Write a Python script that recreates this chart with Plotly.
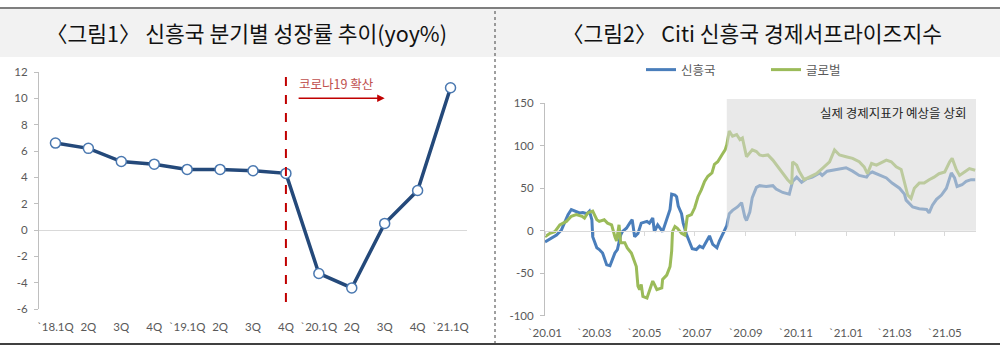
import plotly.graph_objects as go

# ---------------- Data: Figure 1 ----------------
quarters = ["`18.1Q", "2Q", "3Q", "4Q", "`19.1Q", "2Q", "3Q", "4Q",
            "`20.1Q", "2Q", "3Q", "4Q", "`21.1Q"]
growth = [6.6, 6.2, 5.2, 5.0, 4.6, 4.6, 4.5, 4.3, -3.3, -4.4, 0.5, 3.0, 10.8]
y1_ticks = [-6, -4, -2, 0, 2, 4, 6, 8, 10, 12]
y1_text = ["-6", "-4", "-2", "0", "2", "4", "6", "8", "10", "12"]
covid_idx = 7

# ---------------- Data: Figure 2 ----------------
em_dates = ["2020-01-01", "2020-01-07", "2020-01-15", "2020-01-21", "2020-01-25", "2020-01-29",
            "2020-02-02", "2020-02-08", "2020-02-12", "2020-02-16", "2020-02-21", "2020-02-24",
            "2020-02-27", "2020-02-28", "2020-03-04", "2020-03-07", "2020-03-11", "2020-03-16",
            "2020-03-20", "2020-03-22", "2020-03-26", "2020-03-29", "2020-04-02", "2020-04-04",
            "2020-04-09", "2020-04-13", "2020-04-16", "2020-04-19", "2020-04-23", "2020-04-27",
            "2020-05-04", "2020-05-07", "2020-05-11", "2020-05-13", "2020-05-17", "2020-05-23",
            "2020-05-28", "2020-06-01", "2020-06-03", "2020-06-07", "2020-06-09", "2020-06-11",
            "2020-06-15", "2020-06-17", "2020-06-21", "2020-06-25", "2020-06-28", "2020-07-03",
            "2020-07-07", "2020-07-11", "2020-07-15", "2020-07-19", "2020-07-23", "2020-07-28",
            "2020-07-31", "2020-08-04", "2020-08-09", "2020-08-12", "2020-08-16", "2020-08-22",
            "2020-08-27", "2020-08-31", "2020-09-02", "2020-09-06", "2020-09-09", "2020-09-14",
            "2020-09-18", "2020-09-26", "2020-10-04", "2020-10-08", "2020-10-16", "2020-10-24",
            "2020-10-28", "2020-11-02", "2020-11-08", "2020-11-14", "2020-11-21", "2020-11-30",
            "2020-12-03", "2020-12-09", "2020-12-15", "2020-12-24", "2021-01-01", "2021-01-09",
            "2021-01-17", "2021-01-26", "2021-01-29", "2021-02-02", "2021-02-11", "2021-02-19",
            "2021-02-26", "2021-03-07", "2021-03-13", "2021-03-15", "2021-03-23", "2021-03-31",
            "2021-04-09", "2021-04-12", "2021-04-16", "2021-04-21", "2021-04-27", "2021-05-03",
            "2021-05-09", "2021-05-13", "2021-05-16", "2021-05-22", "2021-05-27", "2021-06-02",
            "2021-06-07"]
em_values = [-13, -10, -5, 1, 10, 19,
             25, 23, 21, 21.5, 20, 23,
             13, -7, -20, -22, -26, -40,
             -41, -36, -26, -22, -5, -1,
             3, 9, 13, -7, -3, 9,
             11, 9, 15, -1, 7, -1,
             13, 25, 43, 42, 40, 29,
             20, 9, -4, -14, -21, -22,
             -18, -20, -12, -6, -16, -20,
             -12, -4, 6, 20, 24, 28,
             33, 16, 12, 22, 39, 51,
             53, 52, 53, 49, 45, 43,
             58, 63, 57, 61, 63, 68,
             65, 70, 71, 72, 74, 70,
             65, 63, 67, 69, 65, 62,
             56, 50, 43, 36, 28, 26,
             25, 21, 30, 37, 42, 50,
             68, 62, 52, 54, 58, 60,
             60]

gl_dates = ["2020-01-01", "2020-01-07", "2020-01-13", "2020-01-19", "2020-01-27", "2020-02-02",
            "2020-02-08", "2020-02-15", "2020-02-18", "2020-02-22", "2020-02-28", "2020-03-04",
            "2020-03-07", "2020-03-13", "2020-03-17", "2020-03-22", "2020-03-26", "2020-03-28",
            "2020-03-31", "2020-04-02", "2020-04-07", "2020-04-10", "2020-04-15", "2020-04-19",
            "2020-04-21", "2020-04-23", "2020-04-25", "2020-04-27", "2020-04-29", "2020-05-04",
            "2020-05-07", "2020-05-11", "2020-05-13", "2020-05-16", "2020-05-22", "2020-05-23",
            "2020-05-28", "2020-06-01", "2020-06-03", "2020-06-04", "2020-06-07", "2020-06-10",
            "2020-06-15", "2020-06-19", "2020-06-22", "2020-06-27", "2020-07-01", "2020-07-05",
            "2020-07-09", "2020-07-13", "2020-07-17", "2020-07-22", "2020-07-25", "2020-07-29",
            "2020-08-03", "2020-08-07", "2020-08-09", "2020-08-12", "2020-08-16", "2020-08-21",
            "2020-08-25", "2020-08-28", "2020-09-02", "2020-09-06", "2020-09-09", "2020-09-14",
            "2020-09-18", "2020-09-22", "2020-09-28", "2020-10-04", "2020-10-10", "2020-10-16",
            "2020-10-22", "2020-10-27", "2020-10-28", "2020-11-02", "2020-11-05", "2020-11-11",
            "2020-11-17", "2020-11-26", "2020-12-03", "2020-12-12", "2020-12-18", "2020-12-24",
            "2021-01-01", "2021-01-09", "2021-01-17", "2021-01-23", "2021-01-27", "2021-02-01",
            "2021-02-07", "2021-02-14", "2021-02-19", "2021-02-25", "2021-03-03", "2021-03-09",
            "2021-03-13", "2021-03-17", "2021-03-21", "2021-03-25", "2021-03-31", "2021-04-06",
            "2021-04-12", "2021-04-18", "2021-04-24", "2021-05-01", "2021-05-07", "2021-05-10",
            "2021-05-15", "2021-05-19", "2021-05-25", "2021-05-31", "2021-06-07"]
gl_values = [-7, -3, -1, 7, 11, 17,
             19, 17, 15, 21, 23, 13,
             11, 13, 9, 7, -7, -12,
             7, -14, -14, -20, -26, -38,
             -42, -65, -69, -63, -77, -79,
             -71, -59, -63, -69, -67, -57,
             -52, -42, -24, -1, 5, 3,
             -3, -5, 17, 19, 27, 40,
             48, 58, 64, 68, 78, 81,
             89, 95, 101, 117, 111, 113,
             107, 109, 87, 91, 95, 93,
             89, 88, 89, 83, 75, 67,
             60, 55, 81, 77, 70, 60,
             63, 67, 73, 81, 95, 89,
             87, 85, 81, 75, 67, 79,
             77, 81, 83, 81, 75, 72,
             58, 42, 38, 50, 56, 56,
             60, 63, 67, 69, 81, 85,
             72, 65, 69, 73, 71]

x2_tickvals = ["2020-01-01", "2020-03-01", "2020-05-01", "2020-07-01", "2020-09-01",
               "2020-11-01", "2021-01-01", "2021-03-01", "2021-05-01"]
x2_ticktext = ["`20.01", "`20.03", "`20.05", "`20.07", "`20.09",
               "`20.11", "`21.01", "`21.03", "`21.05"]
y2_ticks = [-100, -50, 0, 50, 100, 150]
y2_text = ["-100", "-50", "0", "50", "100", "150"]
x2_range = ["2020-01-01", "2021-06-08"]
shade_start = "2020-08-09"

H = 348.0
def py(p):  # pixel-from-top -> paper fraction
    return (H - p) / H

TICKFONT = dict(family="Lato, 'Noto Sans CJK KR', sans-serif", size=11.5, color="#595959")
CJK = "'Noto Sans CJK KR', sans-serif"

fig = go.Figure()

fig.add_trace(go.Scatter(
    x=list(range(len(quarters))), y=growth, mode="lines+markers",
    line=dict(color="#24497a", width=3.5),
    marker=dict(size=10, color="white", line=dict(color="#4a78b0", width=1.5)),
    xaxis="x", yaxis="y", showlegend=False, hoverinfo="skip"))

fig.add_trace(go.Scatter(
    x=em_dates, y=em_values, mode="lines", name="신흥국",
    line=dict(color="#4a7ebb", width=3), xaxis="x2", yaxis="y2"))
fig.add_trace(go.Scatter(
    x=gl_dates, y=gl_values, mode="lines", name="글로벌",
    line=dict(color="#9bbb59", width=3), xaxis="x2", yaxis="y2"))
fig.add_trace(go.Scatter(
    x=[], y=[], mode="lines", xaxis="x3", yaxis="y2", showlegend=False, hoverinfo="skip"))

y0_paper = 0.092 + (0 - (-100)) / 250 * (0.704 - 0.092)

fig.update_layout(
    width=1000, height=348, margin=dict(l=0, r=0, t=0, b=0, autoexpand=False),
    paper_bgcolor="white", plot_bgcolor="white",
    xaxis=dict(domain=[0.039, 0.467], range=[-0.5, 12.5], showline=False, showgrid=False,
               zeroline=False, ticks="", tickvals=list(range(len(quarters))), ticktext=quarters,
               tickfont=TICKFONT, ticklabelstandoff=9, anchor="y", automargin=False),
    yaxis=dict(domain=[py(309), py(72)], range=[-6, 12], tickvals=y1_ticks, ticktext=y1_text,
               showgrid=False, showline=True, linecolor="#bfbfbf", linewidth=1,
               ticks="outside", ticklen=4, tickcolor="#bfbfbf",
               zeroline=True, zerolinecolor="#d9d9d9", zerolinewidth=1,
               tickfont=TICKFONT, ticklabelstandoff=4, anchor="x", automargin=False),
    xaxis2=dict(domain=[0.545, 0.976], type="date", range=x2_range, showline=False, showgrid=False,
                zeroline=False, ticks="", tickvals=x2_tickvals, ticktext=x2_ticktext,
                tickfont=TICKFONT, ticklabelstandoff=9, anchor="y2", automargin=False),
    xaxis3=dict(overlaying="x2", type="date", range=x2_range, anchor="free", position=y0_paper,
                showline=True, linecolor="#d9d9d9", linewidth=1, showgrid=False, zeroline=False,
                ticks="outside", ticklen=4, tickcolor="#d9d9d9", tickvals=x2_tickvals,
                showticklabels=False, side="bottom", automargin=False),
    yaxis2=dict(domain=[0.092, 0.704], range=[-100, 150], tickvals=y2_ticks, ticktext=y2_text,
                showgrid=False, showline=True, linecolor="#bfbfbf", linewidth=1,
                ticks="outside", ticklen=4, tickcolor="#bfbfbf", zeroline=False,
                tickfont=TICKFONT, ticklabelstandoff=4, anchor="x2", automargin=False),
    legend=dict(orientation="h", x=0.641, xanchor="left", y=py(70), yanchor="middle",
                font=dict(family=CJK, size=12.5, color="#595959"), itemwidth=30,
                bgcolor="rgba(0,0,0,0)", entrywidth=80, entrywidthmode="pixels"),
)

shapes = [
    # title band
    dict(type="rect", xref="paper", yref="paper", x0=0, x1=1, y0=py(57), y1=py(9),
         fillcolor="#f2f2f2", line=dict(width=0), layer="below"),
    dict(type="line", xref="paper", yref="paper", x0=0, x1=1, y0=py(8), y1=py(8),
         line=dict(color="#7f7f7f", width=2)),
    dict(type="line", xref="paper", yref="paper", x0=0, x1=1, y0=py(344), y1=py(344),
         line=dict(color="#404040", width=2)),
    dict(type="line", xref="paper", yref="paper", x0=0.495, x1=0.495, y0=py(344), y1=py(8),
         line=dict(color="#404040", width=1, dash="dot")),
    # covid line
    dict(type="line", xref="x", yref="paper", x0=covid_idx, x1=covid_idx, y0=py(302), y1=py(69),
         line=dict(color="#c00000", width=2, dash="dash")),
    # shaded area
    dict(type="rect", xref="x2", yref="paper", x0=shade_start, x1=x2_range[1],
         y0=y0_paper, y1=py(99), fillcolor="rgba(215,215,215,0.55)", line=dict(width=0),
         layer="above"),
]
fig.update_layout(shapes=shapes)

ann = [
    dict(text="〈그림1〉 신흥국 분기별 성장률 추이(yoy%)", xref="paper", yref="paper",
         x=0.246, y=py(32), xanchor="center", yanchor="middle", showarrow=False,
         font=dict(family=CJK, size=21.5, color="#111111")),
    dict(text="〈그림2〉 Citi 신흥국 경제서프라이즈지수", xref="paper", yref="paper",
         x=0.752, y=py(32), xanchor="center", yanchor="middle", showarrow=False,
         font=dict(family=CJK, size=21.5, color="#111111")),
    dict(text="코로나19 확산", xref="x", yref="y", x=7.34, y=11.1, xanchor="left",
         yanchor="middle", showarrow=False, font=dict(family=CJK, size=12.5, color="#c0504d")),
    dict(text="", xref="x", yref="y", x=10.0, y=10.0, ax=7.34, ay=10.0, axref="x", ayref="y",
         showarrow=True, arrowhead=2, arrowsize=1, arrowwidth=1.5, arrowcolor="#c00000"),
    dict(text="실제 경제지표가 예상을 상회", xref="paper", yref="paper", x=0.968, y=py(113),
         xanchor="right", yanchor="middle", showarrow=False,
         font=dict(family=CJK, size=12.5, color="#262626")),
]
fig.update_layout(annotations=ann)

fig.write_html("out.html")
